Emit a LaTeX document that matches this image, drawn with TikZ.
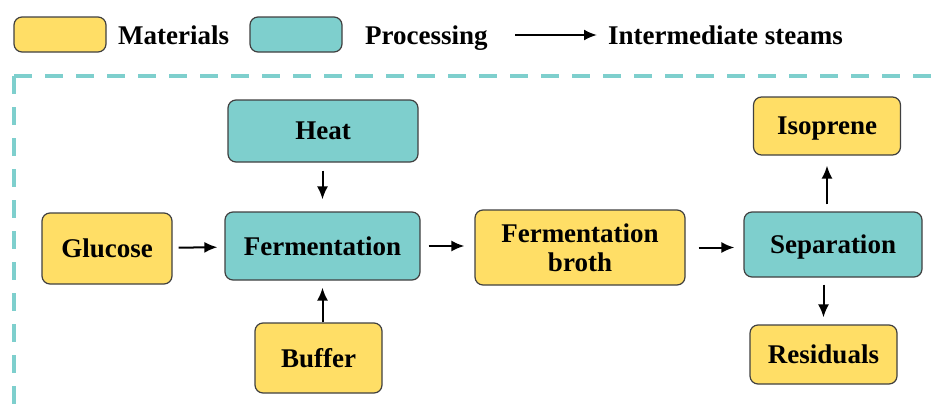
\documentclass[tikz,border=0pt]{standalone}
\usepackage{fontspec}
\setmainfont{Liberation Serif}
\usepackage{tikz}
\usetikzlibrary{arrows.meta}

\definecolor{matyellow}{RGB}{255,222,102}
\definecolor{proccyan}{RGB}{126,207,205}
\definecolor{boxline}{RGB}{64,64,64}

\tikzset{
  box/.style={draw=boxline,line width=1.2pt,rounded corners=8pt,align=center,
    font=\fontsize{27}{29}\selectfont\bfseries,inner sep=0pt,text depth=0pt},
  mat/.style={box,fill=matyellow},
  proc/.style={box,fill=proccyan},
  flow/.style={-{Latex[length=13pt,width=11pt]},line width=2pt},
  legtext/.style={anchor=base west,inner sep=0pt,font=\fontsize{27}{29}\selectfont\bfseries}
}

\begin{document}
\begin{tikzpicture}[x=1pt,y=-1pt]
\useasboundingbox (0,0) rectangle (931,415);
%legend
\node[mat,minimum width=92pt,minimum height=35pt] (legmat) at (60,34.5) {};
\node[legtext] (legmattext) at (118,44) {Materials};
\node[proc,minimum width=92pt,minimum height=35pt] (legproc) at (296,34.5) {};
\node[legtext] (legproctext) at (365,44) {Processing};
\coordinate (legA) at (515,35);
\coordinate (legB) at (597,35);
\draw[flow] (legA) -- (legB);
\node[legtext] (legflowtext) at (608,44) {Intermediate steams};

%frame
\draw[proccyan,line width=4pt,dash pattern=on 18pt off 13pt] (14,76) -- (940,76);
\draw[proccyan,line width=4pt,dash pattern=on 18pt off 13pt] (14,76) -- (14,420);

%process
\node[proc,minimum width=190pt,minimum height=62pt] (heat) at (323,131) {Heat};
\node[proc,minimum width=195pt,minimum height=68pt] (ferm) at (322.5,246) {Fermentation};
\node[mat,minimum width=127pt,minimum height=70pt] (buffer) at (318.5,358) {Buffer};
\node[mat,minimum width=130pt,minimum height=71pt] (glucose) at (107,248.5) {Glucose};
\node[mat,minimum width=210pt,minimum height=75pt,text depth={}] (broth) at (580,247.5) {Fermentation\\broth};
\node[proc,minimum width=178pt,minimum height=65pt] (sep) at (833,244.5) {Separation};
\node[mat,minimum width=147pt,minimum height=58pt] (iso) at (827,126) {Isoprene};
\node[mat,minimum width=147pt,minimum height=59pt] (resid) at (823.5,354.5) {Residuals};

\draw[flow,shorten <=6pt,shorten >=7pt] (glucose) -- (ferm);
\draw[flow,shorten <=8pt,shorten >=12pt] (heat.south -| ferm) -- (ferm.north);
\draw[flow,shorten >=7pt] (buffer.north -| ferm) -- (ferm.south);
\draw[flow,shorten <=8pt,shorten >=10pt] (ferm) -- (ferm -| broth.west);
\draw[flow,shorten <=13pt,shorten >=9pt] (broth) -- (broth -| sep.west);
\draw[flow,shorten <=7pt,shorten >=10pt] (iso.south |- sep.north) -- (iso.south);
\draw[flow,shorten <=7pt,shorten >=7pt] (resid.north |- sep.south) -- (resid.north);
\end{tikzpicture}
\end{document}
